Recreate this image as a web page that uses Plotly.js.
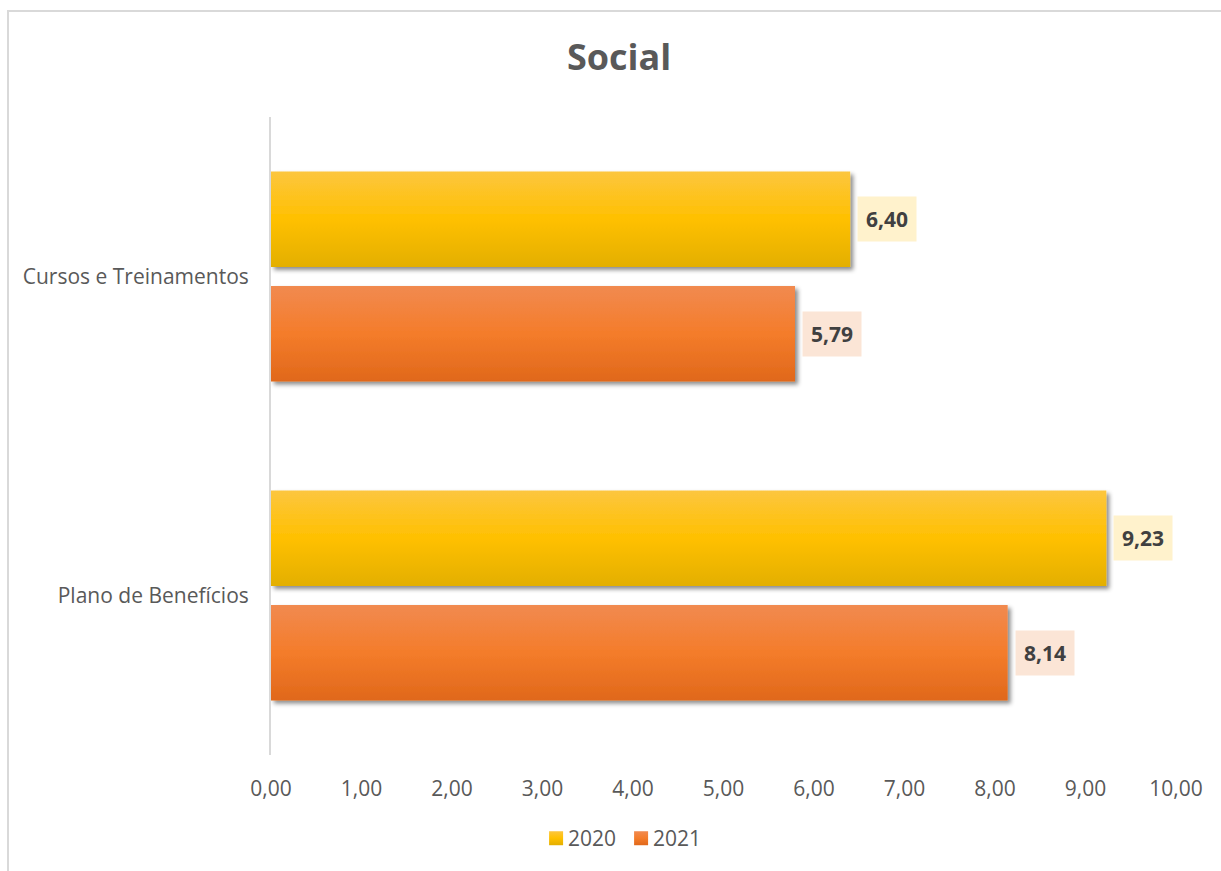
<!DOCTYPE html>
<html>
<head>
<meta charset="utf-8">
<script src="https://cdn.plot.ly/plotly-3.0.1.min.js"></script>
<style>
  html, body { margin: 0; padding: 0; background: #fff; overflow: hidden; }
  #chart { position: absolute; left: 0; top: 0; width: 1221px; height: 871px; }
  #frame { position: absolute; left: 7px; top: 10px; width: 1240px; height: 900px;
           border: 2px solid #d9d9d9; pointer-events: none; box-sizing: border-box; }
</style>
</head>
<body>
<div id="chart"></div>
<div id="frame"></div>
<script>
const categories = ["Cursos e Treinamentos", "Plano de Benefícios"];
const seriesNames = ["2020", "2021"];
const values2020 = [6.40, 9.23];
const values2021 = [5.79, 8.14];
const xTickValues = [0, 1, 2, 3, 4, 5, 6, 7, 8, 9, 10];

const FONT = "Open Sans, Lato, sans-serif";
const colors = ["#FFC000", "#F47C2A"];
const labelBg = ["#FFF2CC", "#FBE5D6"];

const allValues = [values2020, values2021];
const data = allValues.map((vals, i) => ({
  type: "bar",
  orientation: "h",
  name: seriesNames[i],
  y: categories,
  x: vals,
  marker: { color: colors[i], line: { width: 0 } },
  hoverinfo: "x+name"
}));

const fmt = v => v.toFixed(2).replace(".", ",");
const annotations = [];
allValues.forEach((vals, i) => {
  vals.forEach((v, j) => {
    annotations.push({
      x: v, y: categories[j], xref: "x", yref: "y",
      text: "<b>" + fmt(v) + "</b>",
      showarrow: false, xanchor: "left", yanchor: "middle",
      xshift: 7, yshift: i === 0 ? 57.5 : -57.5,
      bgcolor: labelBg[i], borderpad: 8,
      font: { family: FONT, size: 21, color: "#404040" }
    });
  });
});

const layout = {
  width: 1221, height: 871,
  paper_bgcolor: "rgba(0,0,0,0)", plot_bgcolor: "rgba(0,0,0,0)",
  margin: { l: 271, r: 45, t: 117, b: 113 },
  separators: ",.",
  title: {
    text: "<b>Social</b>",
    font: { family: FONT, size: 36, color: "#595959" },
    x: 0.507, xref: "container", xanchor: "center",
    y: 0.934, yref: "container", yanchor: "middle"
  },
  barmode: "group",
  bargap: 0.282,
  bargroupgap: 0.165,
  xaxis: {
    range: [0, 10],
    tickvals: xTickValues,
    tickformat: ".2f",
    showgrid: false, zeroline: false, showline: false,
    ticks: "", ticklabelstandoff: 19,
    tickfont: { family: FONT, size: 21, color: "#595959" },
    fixedrange: true
  },
  yaxis: {
    type: "category",
    categoryorder: "array", categoryarray: categories,
    range: [1.5, -0.5],
    showgrid: false, zeroline: false,
    showline: true, linecolor: "#d9d9d9", linewidth: 2,
    layer: "above traces",
    ticks: "", ticklabelstandoff: 16,
    tickfont: { family: FONT, size: 21, color: "#595959" },
    fixedrange: true
  },
  showlegend: true,
  legend: {
    orientation: "h",
    x: 0.378, xanchor: "center",
    y: -0.131, yanchor: "middle",
    font: { family: FONT, size: 21, color: "#595959" },
    itemwidth: 30, traceorder: "normal",
    entrywidth: 40
  },
  annotations: annotations
};

Plotly.newPlot("chart", data, layout, { displayModeBar: false, staticPlot: true }).then(gd => {
  const svg = gd.querySelector("svg.main-svg");
  const ns = "http://www.w3.org/2000/svg";
  let defs = svg.querySelector("defs");
  if (!defs) { defs = document.createElementNS(ns, "defs"); svg.insertBefore(defs, svg.firstChild); }
  const grads = [
    ["#FCC63F", "#FFC000", "#E3AF00"],
    ["#F18A50", "#F47C2A", "#E0681B"]
  ];
  grads.forEach((g, i) => {
    const lg = document.createElementNS(ns, "linearGradient");
    lg.setAttribute("id", "bargrad" + i);
    lg.setAttribute("x1", "0"); lg.setAttribute("y1", "0");
    lg.setAttribute("x2", "0"); lg.setAttribute("y2", "1");
    [[0, g[0]], [0.5, g[1]], [1, g[2]]].forEach(([o, c]) => {
      const s = document.createElementNS(ns, "stop");
      s.setAttribute("offset", o);
      s.setAttribute("stop-color", c);
      lg.appendChild(s);
    });
    defs.appendChild(lg);
  });
  const f = document.createElementNS(ns, "filter");
  f.setAttribute("id", "barshadow");
  f.setAttribute("x", "-10%"); f.setAttribute("y", "-10%");
  f.setAttribute("width", "130%"); f.setAttribute("height", "130%");
  const ds = document.createElementNS(ns, "feDropShadow");
  ds.setAttribute("dx", "3"); ds.setAttribute("dy", "3");
  ds.setAttribute("stdDeviation", "2");
  ds.setAttribute("flood-color", "#000"); ds.setAttribute("flood-opacity", "0.45");
  f.appendChild(ds);
  defs.appendChild(f);

  gd.querySelectorAll(".barlayer .trace").forEach((t, i) => {
    t.querySelectorAll("path").forEach(p => {
      p.style.fill = "url(#bargrad" + i + ")";
      p.style.filter = "url(#barshadow)";
    });
  });
  gd.querySelectorAll(".legend .traces").forEach((t, i) => {
    t.querySelectorAll(".legendpoints path").forEach(p => {
      p.setAttribute("d", "M15,7H1V-7H15Z");
      p.style.fill = "url(#bargrad" + i + ")";
    });
  });
});
</script>
</body>
</html>
